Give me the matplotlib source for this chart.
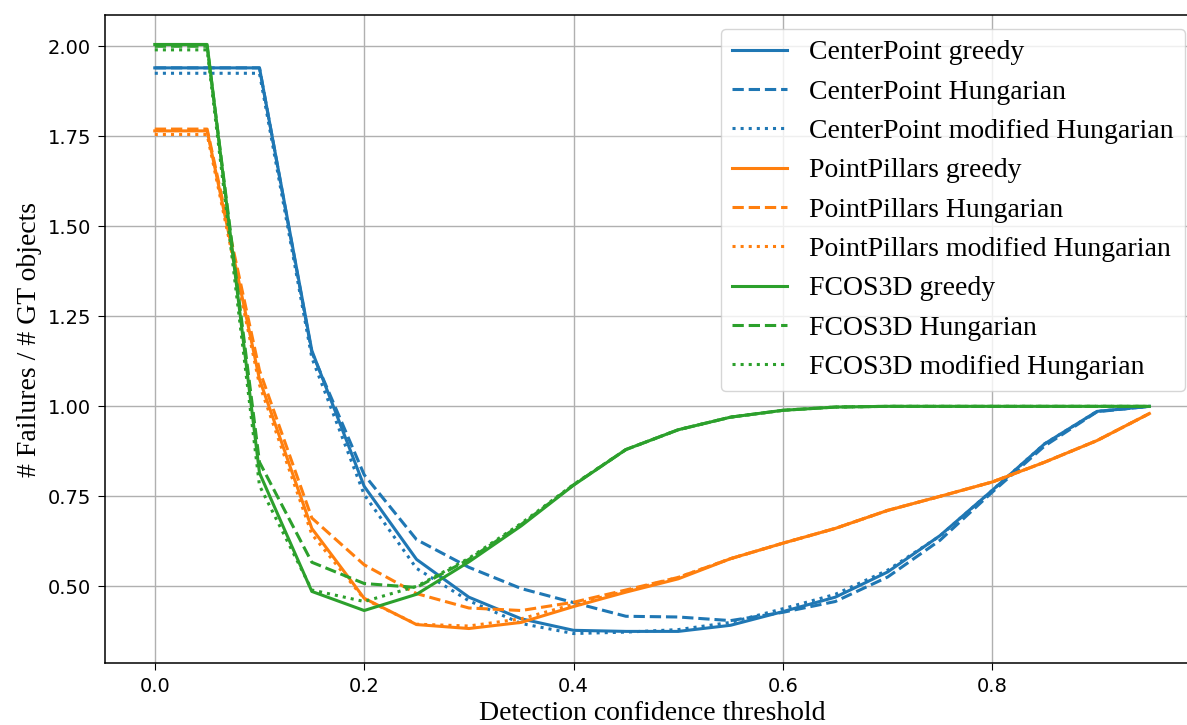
"""
Failure rate vs. detection confidence threshold for three detectors
and three matching strategies.
"""
import matplotlib
matplotlib.use("Agg")
import matplotlib.pyplot as plt
from matplotlib.ticker import MultipleLocator, FormatStrFormatter


thresholds = [0.00, 0.05, 0.10, 0.15, 0.20, 0.25, 0.30, 0.35, 0.40, 0.45,
              0.50, 0.55, 0.60, 0.65, 0.70, 0.75, 0.80, 0.85, 0.90, 0.95]

centerpoint_greedy = [1.940, 1.940, 1.940, 1.155, 0.778, 0.575, 0.470, 0.410, 0.378, 0.375,
                      0.375, 0.392, 0.430, 0.470, 0.540, 0.641, 0.767, 0.896, 0.986, 1.000]
centerpoint_hungarian = [1.940, 1.940, 1.940, 1.150, 0.810, 0.630, 0.553, 0.494, 0.455, 0.417,
                         0.415, 0.405, 0.428, 0.458, 0.526, 0.628, 0.762, 0.890, 0.985, 1.000]
centerpoint_modified = [1.925, 1.925, 1.925, 1.135, 0.755, 0.550, 0.460, 0.397, 0.369, 0.373,
                        0.380, 0.400, 0.438, 0.478, 0.545, 0.640, 0.767, 0.896, 0.986, 1.000]

pointpillars_greedy = [1.765, 1.765, 1.075, 0.661, 0.467, 0.394, 0.383, 0.400, 0.444, 0.484,
                       0.521, 0.577, 0.620, 0.661, 0.711, 0.750, 0.790, 0.845, 0.905, 0.980]
pointpillars_hungarian = [1.770, 1.770, 1.100, 0.690, 0.560, 0.480, 0.440, 0.433, 0.456, 0.490,
                          0.525, 0.577, 0.620, 0.661, 0.711, 0.750, 0.790, 0.845, 0.905, 0.980]
pointpillars_modified = [1.755, 1.755, 1.060, 0.645, 0.465, 0.395, 0.390, 0.410, 0.450, 0.487,
                         0.525, 0.577, 0.620, 0.661, 0.711, 0.750, 0.790, 0.845, 0.905, 0.980]

fcos3d_greedy = [2.005, 2.005, 0.815, 0.486, 0.433, 0.478, 0.568, 0.668, 0.781, 0.880,
                 0.935, 0.970, 0.989, 0.998, 1.000, 1.000, 1.000, 1.000, 1.000, 1.000]
fcos3d_hungarian = [2.000, 2.000, 0.845, 0.567, 0.508, 0.497, 0.575, 0.672, 0.782, 0.880,
                    0.935, 0.970, 0.989, 0.998, 1.000, 1.000, 1.000, 1.000, 1.000, 1.000]
fcos3d_modified = [1.990, 1.990, 0.780, 0.490, 0.458, 0.500, 0.578, 0.675, 0.783, 0.880,
                   0.935, 0.970, 0.989, 0.998, 1.000, 1.000, 1.000, 1.000, 1.000, 1.000]

series = [
    ("CenterPoint greedy", centerpoint_greedy, "#1f77b4", "-"),
    ("CenterPoint Hungarian", centerpoint_hungarian, "#1f77b4", "--"),
    ("CenterPoint modified Hungarian", centerpoint_modified, "#1f77b4", ":"),
    ("PointPillars greedy", pointpillars_greedy, "#ff7f0e", "-"),
    ("PointPillars Hungarian", pointpillars_hungarian, "#ff7f0e", "--"),
    ("PointPillars modified Hungarian", pointpillars_modified, "#ff7f0e", ":"),
    ("FCOS3D greedy", fcos3d_greedy, "#2ca02c", "-"),
    ("FCOS3D Hungarian", fcos3d_hungarian, "#2ca02c", "--"),
    ("FCOS3D modified Hungarian", fcos3d_modified, "#2ca02c", ":"),
]

SERIF = "Liberation Serif"

fig = plt.figure(figsize=(11.87, 7.25), dpi=100, facecolor="white")
ax = fig.add_axes([0.0885, 0.0855, 0.9217, 0.8938])

for label, values, color, style in series:
    ax.plot(thresholds, values, linestyle=style, color=color, linewidth=2.2, label=label)

ax.yaxis.set_major_locator(MultipleLocator(0.25))
ax.yaxis.set_major_formatter(FormatStrFormatter("%.2f"))
ax.grid(True, color="#b0b0b0", linewidth=1.0)
ax.set_axisbelow(True)
ax.tick_params(labelsize=14, length=5, pad=5)
for sp in ax.spines.values():
    sp.set_linewidth(1.1)

ax.set_xlabel("Detection confidence threshold", fontsize=20, family=SERIF)
ax.set_ylabel("# Failures / # GT objects", fontsize=20, family=SERIF)
ax.legend(loc="upper right", prop={"family": SERIF, "size": 20})

plt.savefig("out.png", dpi=100, facecolor="white")
plt.close()
